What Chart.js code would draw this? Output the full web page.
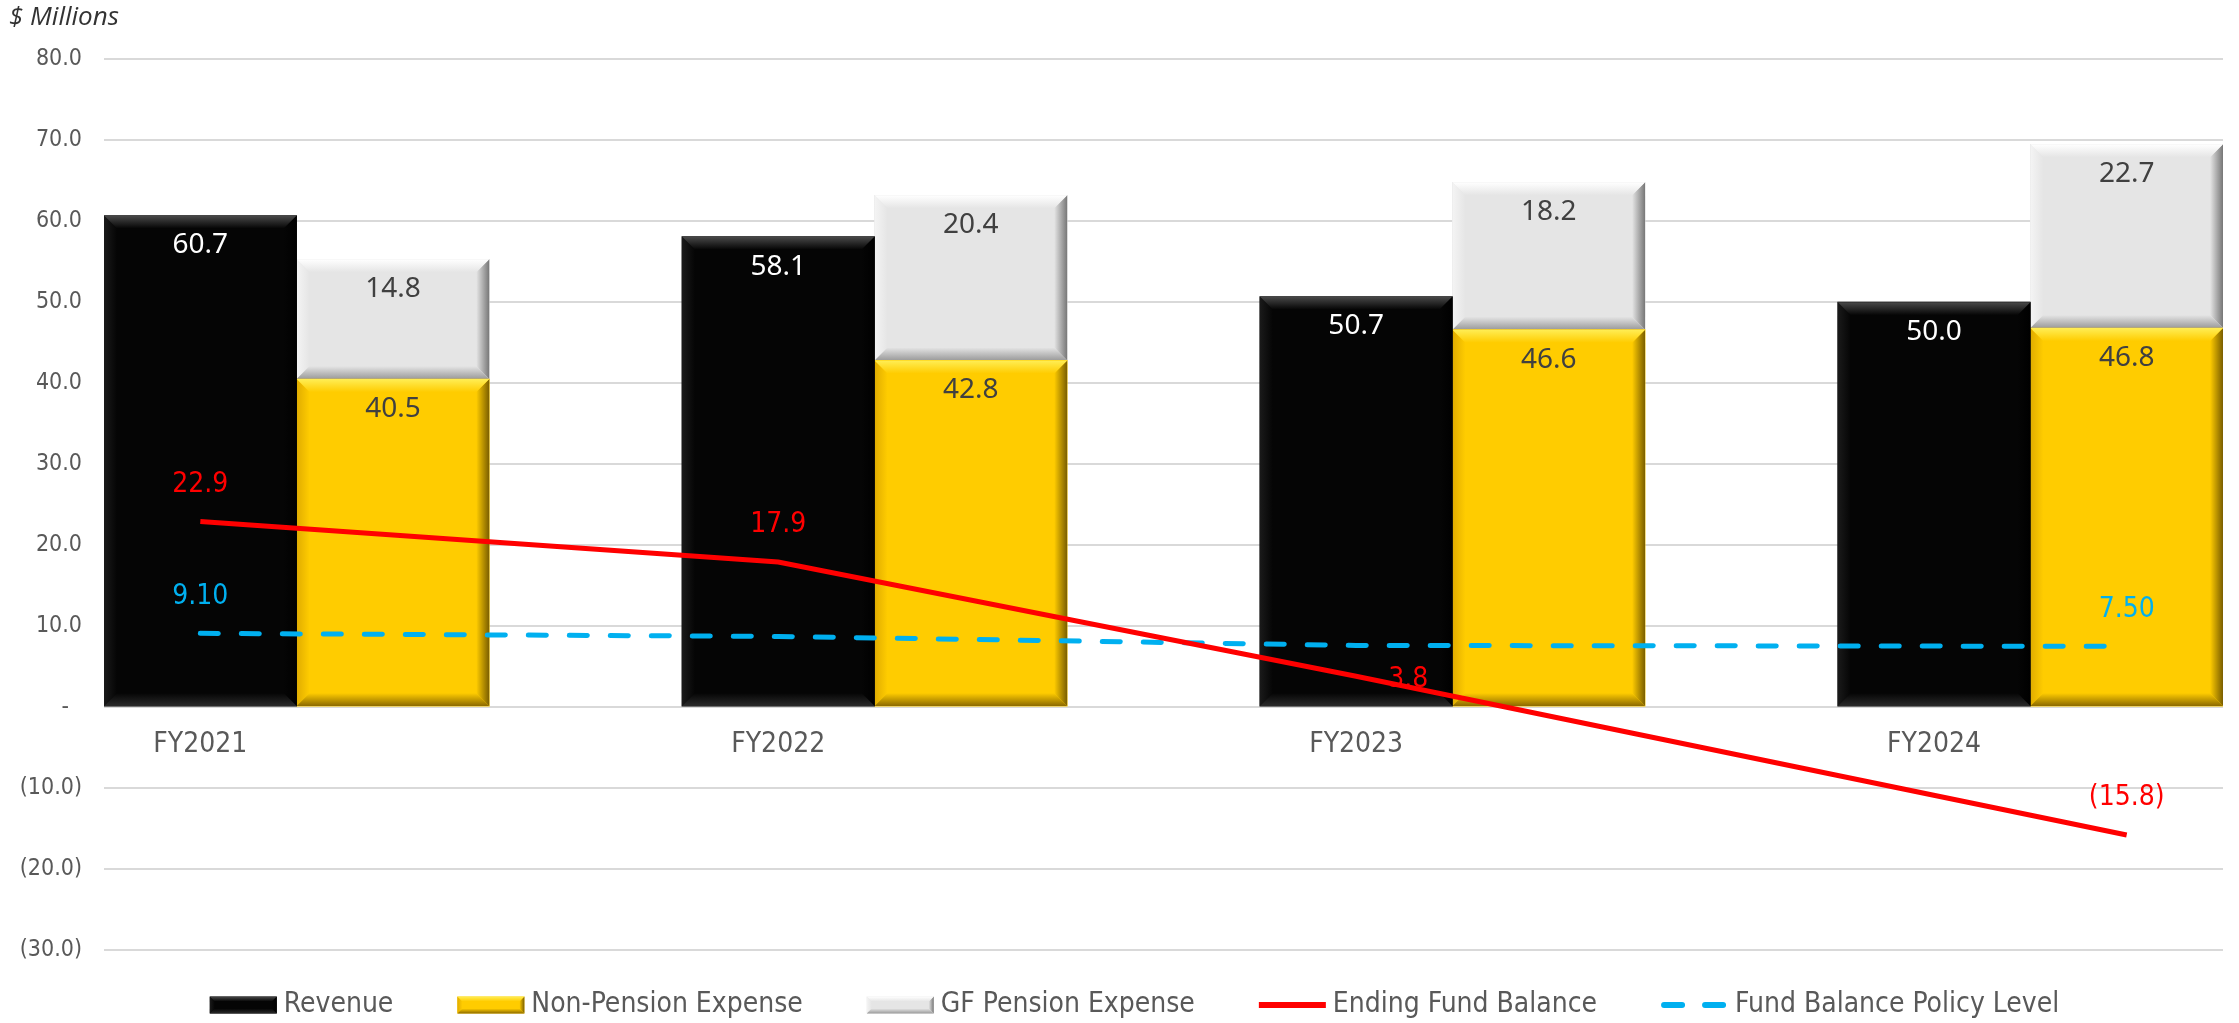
<!DOCTYPE html>
<html><head><meta charset="utf-8">
<script src="https://cdn.jsdelivr.net/npm/chart.js@4.4.1/dist/chart.umd.min.js"></script>
<style>html,body{margin:0;padding:0;background:#fff;} canvas{display:block;}</style>
</head><body>
<canvas id="c" width="2239" height="1023"></canvas>
<script>
// ---- data ----
const categories = ['FY2021', 'FY2022', 'FY2023', 'FY2024'];
const revenue = [60.7, 58.1, 50.7, 50.0];
const nonPensionExpense = [40.5, 42.8, 46.6, 46.8];
const gfPensionExpense = [14.8, 20.4, 18.2, 22.7];
const endingFundBalance = [22.9, 17.9, 3.8, -15.8];
const fundBalancePolicyLevel = [9.10, 8.72, 7.61, 7.50];
const yTickValues = [80, 70, 60, 50, 40, 30, 20, 10, 0, -10, -20, -30];

// ---- slot layout: [revenue bar, expense bar, gap] per year ----
const nSlots = categories.length * 3 - 1;
const slotLabels = Array(nSlots).fill('');
categories.forEach((c, i) => { slotLabels[3 * i] = c; });
function toSlots(arr, offsetFn) {
  const out = Array(nSlots).fill(null);
  arr.forEach((v, i) => { out[3 * i + offsetFn(i)] = v; });
  return out;
}
const lineOffset = i => (i === categories.length - 1 ? 1 : 0);

const NARROW = '"Liberation Sans Narrow", "Arial Narrow", "DejaVu Sans Condensed", sans-serif';
const REGULAR = '"Noto Sans", "Open Sans", sans-serif';

function fmtAcct(v, d) {
  if (v < 0) return '(' + (-v).toFixed(d) + ')';
  return v.toFixed(d);
}

function drawBevel(ctx, L, T, R, B, b, c) {
  const h = B - T, w = R - L;
  if (h < 1 || w < 1) return;
  b = Math.min(b, h / 2, w / 2);
  const poly = (pts, fill) => {
    ctx.beginPath();
    ctx.moveTo(pts[0][0], pts[0][1]);
    for (let k = 1; k < pts.length; k++) ctx.lineTo(pts[k][0], pts[k][1]);
    ctx.closePath();
    ctx.fillStyle = fill;
    ctx.fill();
  };
  let g;
  g = ctx.createLinearGradient(L, 0, L + b, 0); g.addColorStop(0, c.left); g.addColorStop(1, c.face);
  poly([[L, T], [L + b, T + b], [L + b, B - b], [L, B]], g);
  g = ctx.createLinearGradient(R - b, 0, R, 0); g.addColorStop(0, c.face); g.addColorStop(1, c.right);
  poly([[R, T], [R - b, T + b], [R - b, B - b], [R, B]], g);
  g = ctx.createLinearGradient(0, T, 0, T + b); g.addColorStop(0, c.top); g.addColorStop(1, c.face);
  poly([[L, T], [R, T], [R - b, T + b], [L + b, T + b]], g);
  g = ctx.createLinearGradient(0, B - b, 0, B); g.addColorStop(0, c.face); g.addColorStop(1, c.bottom);
  poly([[L, B], [R, B], [R - b, B - b], [L + b, B - b]], g);
}

const barDeco = {
  id: 'barDeco',
  afterDatasetDraw(chart, args) {
    const meta = args.meta;
    if (meta.type !== 'bar') return;
    const ds = chart.data.datasets[args.index];
    const ctx = chart.ctx;
    ctx.save();
    meta.data.forEach((el, i) => {
      const v = ds.data[i];
      if (v === null || v === undefined) return;
      const p = el.getProps(['x', 'y', 'base', 'width'], true);
      const L = p.x - p.width / 2, R = p.x + p.width / 2;
      const T = Math.min(p.y, p.base), B = Math.max(p.y, p.base);
      drawBevel(ctx, L, T, R, B, 13, ds.bevel);
      ctx.fillStyle = ds.valueColor;
      ctx.font = '28px ' + REGULAR;
      ctx.textAlign = 'center';
      ctx.textBaseline = 'middle';
      ctx.fillText(v.toFixed(1), p.x, T + 30);
    });
    ctx.restore();
  },
  afterDatasetsDraw(chart) {
    const ctx = chart.ctx;
    ctx.save();
    chart.data.datasets.forEach((ds, di) => {
      if (ds.type !== 'line' || !ds.series) return;
      const meta = chart.getDatasetMeta(di);
      ctx.fillStyle = ds.valueColor;
      ctx.font = '28px ' + NARROW;
      ds.series.forEach((v, i) => {
        const place = ds.labelPlacement[i];
        if (!place) return;
        const el = meta.data[3 * i + lineOffset(i)];
        const txt = fmtAcct(v, ds.labelDigits);
        if (place === 'above') {
          ctx.textAlign = 'center'; ctx.textBaseline = 'middle';
          ctx.fillText(txt, el.x, el.y - 37);
        } else {
          ctx.textAlign = 'left'; ctx.textBaseline = 'middle';
          ctx.fillText(txt, el.x + 32, el.y + 3);
        }
      });
    });
    ctx.restore();
  },
  afterDraw(chart) {
    // legend
    const ctx = chart.ctx;
    ctx.save();
    ctx.font = '28px ' + NARROW;
    const mW = 67, mH = 17, tGap = 7, iGap = 64;
    const items = chart.data.datasets.map(ds => ({ ds, tw: ctx.measureText(ds.label).width }));
    const total = items.reduce((s, it) => s + mW + tGap + it.tw, 0) + iGap * (items.length - 1);
    let x = chart.width / 2 + 15 - total / 2;
    const yc = chart.chartArea.bottom + 55;
    items.forEach(it => {
      const ds = it.ds;
      if (ds.type === 'bar') {
        ctx.fillStyle = ds.backgroundColor;
        ctx.fillRect(x, yc - mH / 2, mW, mH);
        drawBevel(ctx, x, yc - mH / 2, x + mW, yc + mH / 2, 5, ds.bevel);
      } else {
        ctx.beginPath();
        ctx.strokeStyle = ds.borderColor;
        ctx.lineWidth = 6;
        ctx.lineCap = ds.borderCapStyle || 'butt';
        ctx.setLineDash(ds.borderDash || []);
        const inset = ds.borderDash ? 3 : 0;
        ctx.moveTo(x + inset, yc);
        ctx.lineTo(x + mW - inset, yc);
        ctx.stroke();
        ctx.setLineDash([]);
      }
      ctx.fillStyle = '#595959';
      ctx.textAlign = 'left';
      ctx.textBaseline = 'middle';
      ctx.fillText(ds.label, x + mW + tGap, yc);
      x += mW + tGap + it.tw + iGap;
    });
    ctx.restore();
  }
};

const chart = new Chart(document.getElementById('c'), {
  data: {
    labels: slotLabels,
    datasets: [
      {
        type: 'bar', label: 'Revenue', data: toSlots(revenue, () => 0),
        backgroundColor: '#050505', order: 2, barPercentage: 1, categoryPercentage: 1,
        valueColor: '#FFFFFF',
        bevel: { face: '#050505', top: '#4a4a4a', left: '#1a1a1a', right: '#000000', bottom: '#2a2a2a' }
      },
      {
        type: 'bar', label: 'Non-Pension Expense', data: toSlots(nonPensionExpense, () => 1),
        backgroundColor: '#FFCC00', order: 2, barPercentage: 1, categoryPercentage: 1,
        valueColor: '#404040',
        bevel: { face: '#FFCC00', top: '#FFEE55', left: '#E0AC00', right: '#7A5E00', bottom: '#8C6A00' }
      },
      {
        type: 'bar', label: 'GF Pension Expense', data: toSlots(gfPensionExpense, () => 1),
        backgroundColor: '#E5E5E5', order: 2, barPercentage: 1, categoryPercentage: 1,
        valueColor: '#404040',
        bevel: { face: '#E5E5E5', top: '#FFFFFF', left: '#F4F4F4', right: '#777777', bottom: '#9A9A9A' }
      },
      {
        type: 'line', label: 'Ending Fund Balance', data: toSlots(endingFundBalance, lineOffset),
        series: endingFundBalance, labelDigits: 1,
        labelPlacement: ['above', 'above', 'right', 'above'],
        borderColor: '#FF0000', backgroundColor: '#FF0000', borderWidth: 5,
        pointRadius: 0, spanGaps: true, tension: 0, stack: 'balance', order: 1,
        valueColor: '#FF0000'
      },
      {
        type: 'line', label: 'Fund Balance Policy Level', data: toSlots(fundBalancePolicyLevel, lineOffset),
        series: fundBalancePolicyLevel, labelDigits: 2,
        labelPlacement: ['above', null, null, 'above'],
        borderColor: '#00B0F0', backgroundColor: '#00B0F0', borderWidth: 5,
        borderDash: [18, 23], borderCapStyle: 'round',
        pointRadius: 0, spanGaps: true, tension: 0, stack: 'policy', order: 1,
        valueColor: '#00B0F0'
      }
    ]
  },
  options: {
    responsive: false,
    devicePixelRatio: 1,
    animation: false,
    events: [],
    layout: { padding: { left: 9, right: 16, top: 0, bottom: 73 } },
    plugins: {
      legend: { display: false },
      tooltip: { enabled: false },
      title: {
        display: true, text: '$ Millions', align: 'start', color: '#333333',
        font: { family: '"Open Sans", "Noto Sans", sans-serif', size: 26, style: 'italic', weight: 'normal' },
        padding: { top: 2, bottom: 26 }
      }
    },
    scales: {
      x: {
        type: 'category', stacked: true, offset: true,
        position: { y: 0 },
        grid: { display: false, drawTicks: false },
        border: { display: false },
        ticks: {
          autoSkip: false, maxRotation: 0, minRotation: 0, padding: 21,
          color: '#595959', font: { family: NARROW, size: 28 }
        },
        afterFit(s) { s.height = 0; }
      },
      y: {
        stacked: true, min: -30, max: 80,
        afterBuildTicks(s) { s.ticks = yTickValues.map(v => ({ value: v })); },
        afterFit(s) { s.width = 95; },
        grid: { color: '#D9D9D9', lineWidth: 2, drawTicks: false },
        border: { display: false },
        ticks: {
          padding: 22, color: '#595959', font: { family: NARROW, size: 23 },
          callback: v => (v === 0 ? '-  ' : fmtAcct(v, 1))
        }
      }
    }
  },
  plugins: [barDeco]
});
</script>
</body></html>
